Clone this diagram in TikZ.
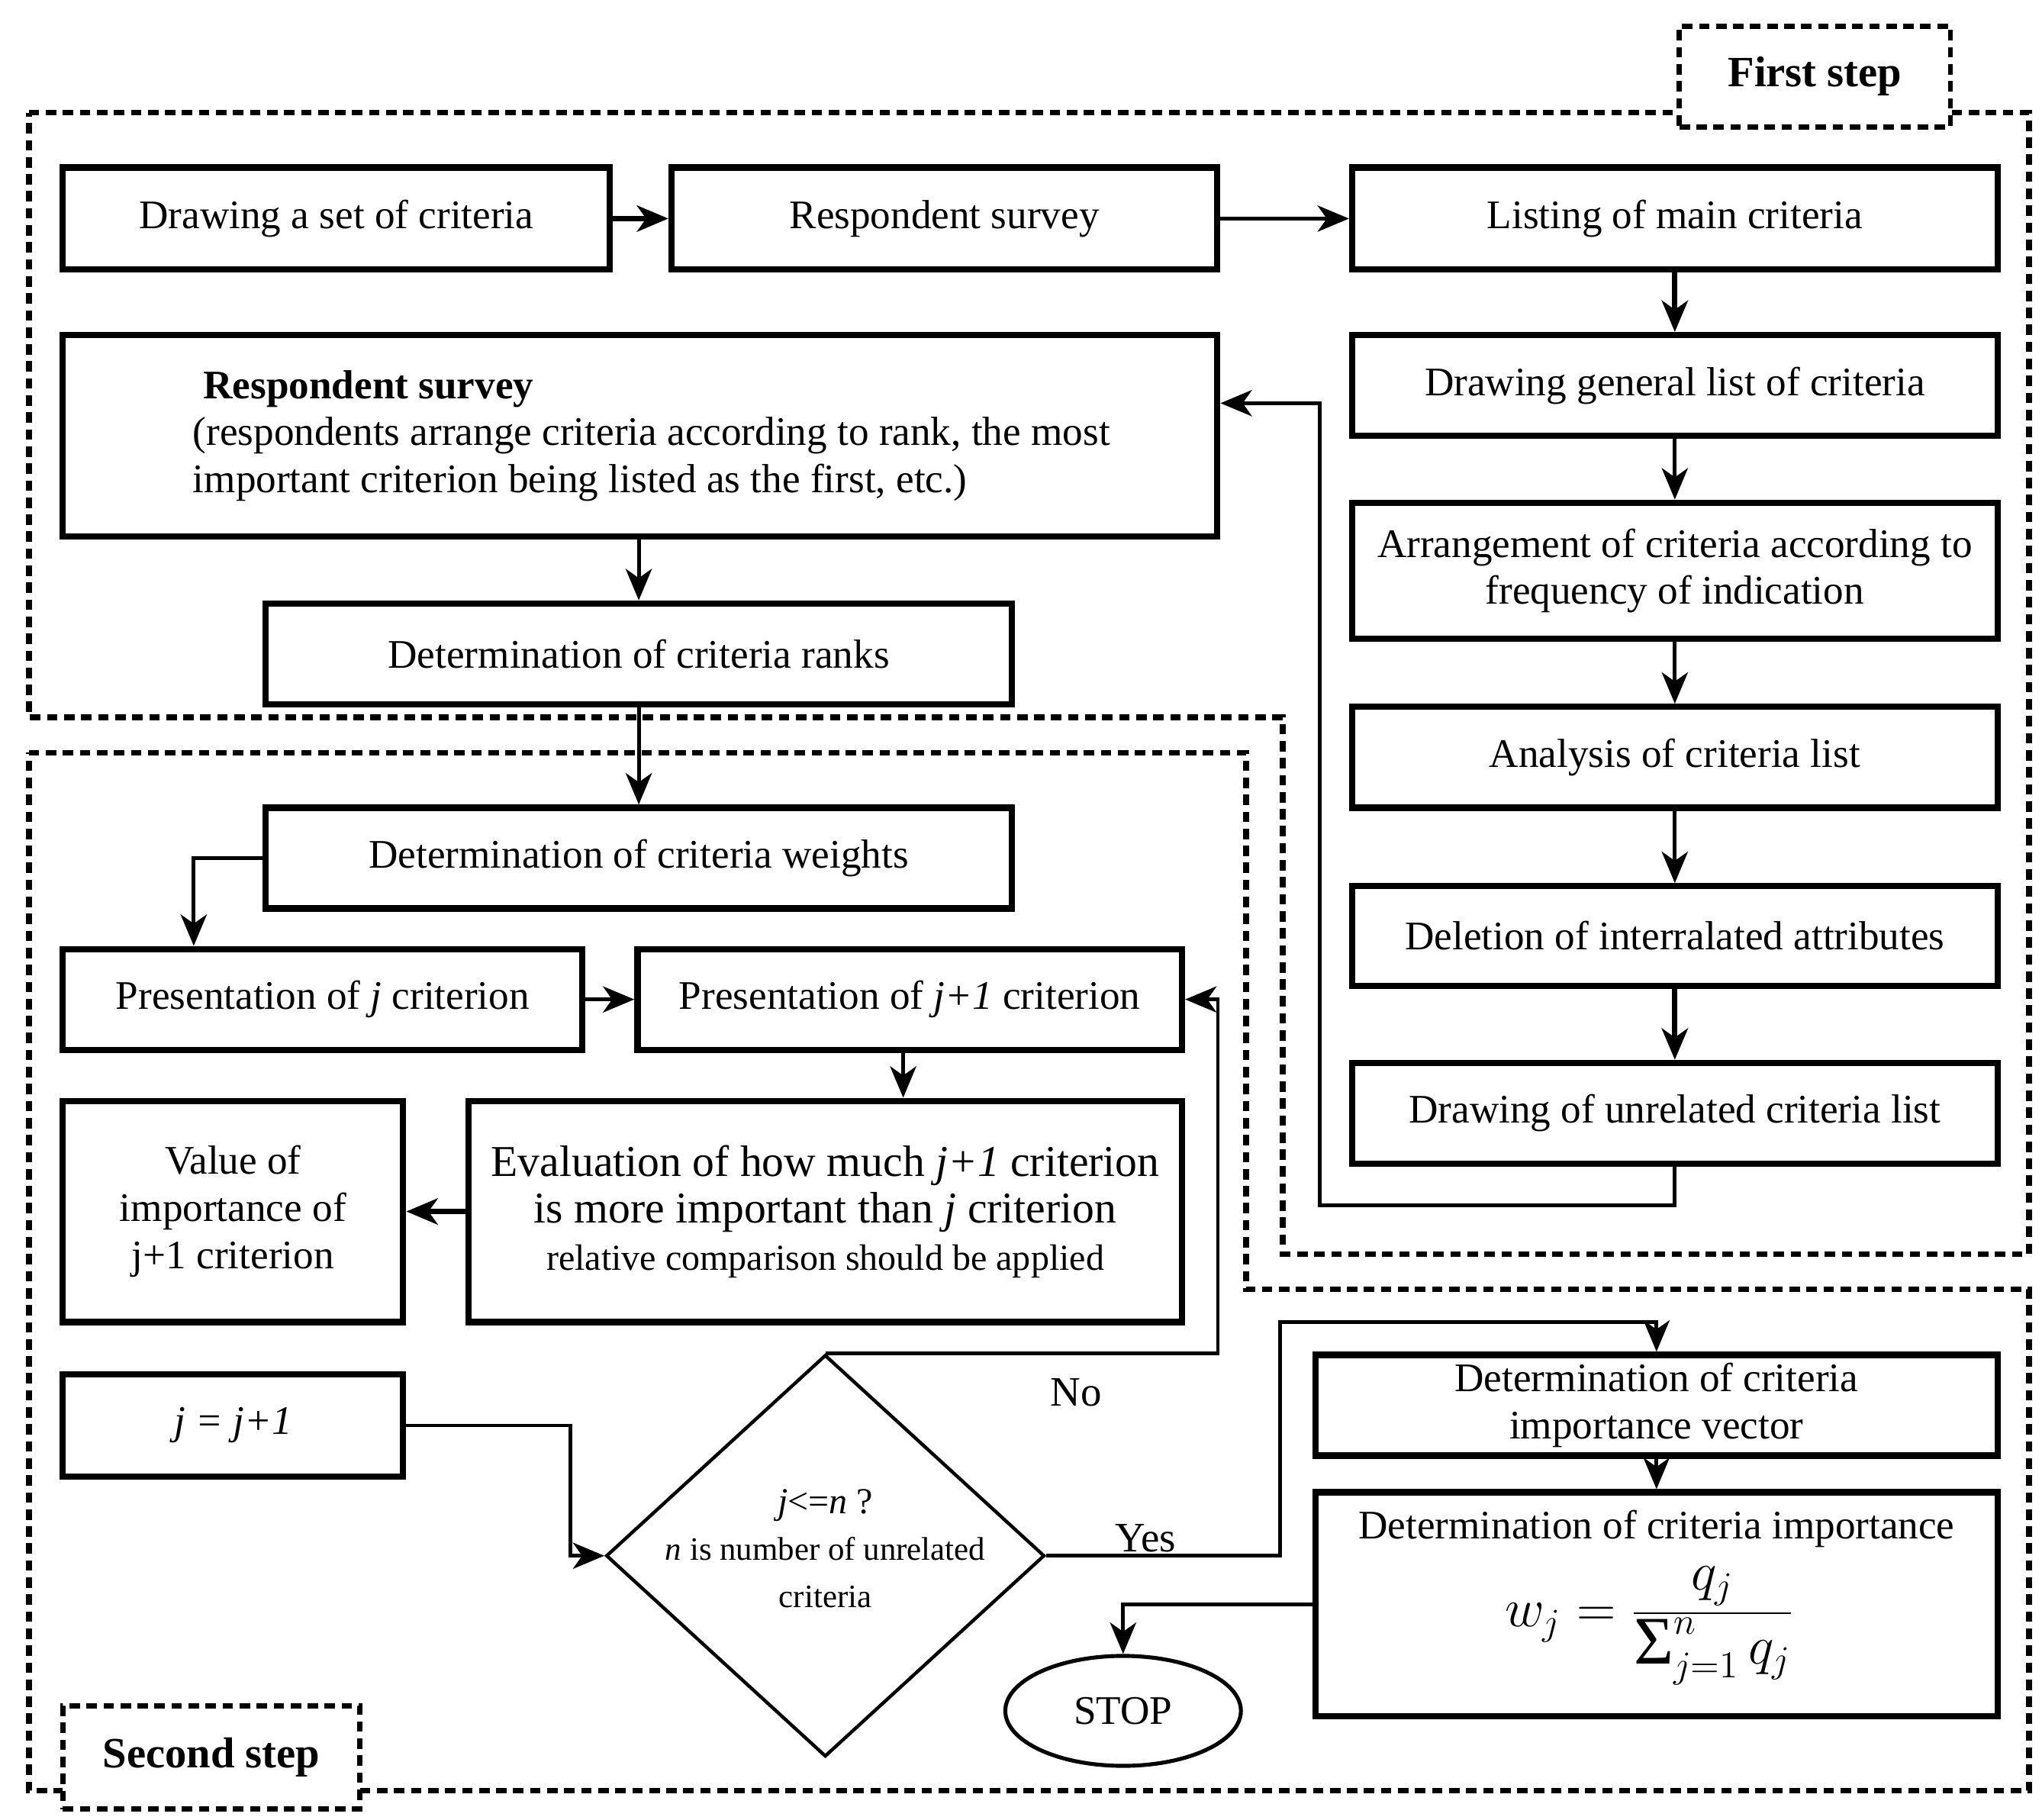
\documentclass[tikz,border=0pt]{standalone}
\usepackage{fontspec}
\setmainfont{Liberation Serif}
\usetikzlibrary{arrows.meta,shapes.geometric}
\begin{document}
\begin{tikzpicture}[x=0.5pt,y=-0.5pt,
 box/.style={draw,line width=2.4pt,inner sep=2pt,align=center,font=\fontsize{15.5pt}{18pt}\selectfont},
 conn/.style={line width=1.4pt,-{Stealth[length=12pt,width=10pt,inset=3.5pt]}},
 tconn/.style={conn,line width=2pt},
 region/.style={line width=2.2pt,dash pattern=on 4pt off 2.5pt},
 lab/.style={draw,fill=white,line width=2pt,dash pattern=on 4pt off 2.5pt,font=\bfseries\fontsize{16.5pt}{19pt}\selectfont},
 txt/.style={inner sep=0pt,align=center,font=\fontsize{15.5pt}{18pt}\selectfont}
]
\useasboundingbox (0,0) rectangle (1560,1389.8);
% regions
\draw[region] (22,86) -- (1550,86) -- (1550,958) -- (980,958) -- (980,548) -- (22,548) -- cycle;
\draw[region] (22,575) -- (952,575) -- (952,985) -- (1550,985) -- (1550,1368) -- (22,1368) -- cycle;
\node[lab,minimum width=103.5pt,minimum height=38.5pt] (l1) at (1386.5,58.5) {First step};
\node[lab,minimum width=113.5pt,minimum height=39.5pt] (l2) at (161.5,1342.5) {Second step};

% first step boxes
\node[box,minimum width=209pt,minimum height=39pt] (b1) at (257,167) {Drawing a set of criteria};
\node[box,minimum width=208.5pt,minimum height=39pt] (b2) at (721.5,167) {Respondent survey};
\node[box,minimum width=246.5pt,minimum height=39pt] (b3) at (1279.5,167) {Listing of main criteria};
\node[box,minimum width=246.5pt,minimum height=38.5pt] (b4) at (1279.5,294.5) {Drawing general list of criteria};
\node[box,minimum width=246.5pt,minimum height=52pt] (b5) at (1279.5,436) {Arrangement of criteria according to\\frequency of indication};
\node[box,minimum width=246.5pt,minimum height=38.5pt] (b6) at (1279.5,578.5) {Analysis of criteria list};
\node[box,minimum width=246.5pt,minimum height=38pt] (b7) at (1279.5,715) {Deletion of interralated attributes};
\node[box,minimum width=246.5pt,minimum height=38.5pt] (b8) at (1279.5,850.5) {Drawing of unrelated criteria list};
\node[box,minimum width=441pt,minimum height=77pt] (big) at (489,333) {};
\node[txt,anchor=west,align=left] (bigt) at (147,333) {\hspace*{4pt}\textbf{Respondent survey}\\(respondents arrange criteria according to rank, the most\\important criterion being listed as the first, etc.)};
\node[box,minimum width=285pt,minimum height=38.5pt] (b10) at (488,499.5) {Determination of criteria ranks};

% second step boxes
\node[box,minimum width=285pt,minimum height=38.5pt] (b11) at (488,655.5) {Determination of criteria weights};
\node[box,minimum width=198.5pt,minimum height=38.5pt] (b12) at (246.5,763.5) {Presentation of \textit{j} criterion};
\node[box,minimum width=208pt,minimum height=38.5pt] (b13) at (695,763.5) {Presentation of \textit{j+1} criterion};
\node[box,minimum width=130pt,minimum height=84.5pt] (b14) at (178,925.5) {Value of\\importance of\\j+1 criterion};
\node[box,minimum width=272.5pt,minimum height=84.5pt] (b15) at (630.5,925.5) {\fontsize{16.8pt}{19.5pt}\selectfont Evaluation of how much \textit{j+1} criterion\\\fontsize{16.8pt}{19pt}\selectfont is more important than \textit{j} criterion\\\fontsize{14pt}{18pt}\selectfont relative comparison should be applied};
\node[box,minimum width=130pt,minimum height=39pt] (b16) at (178,1089) {\textit{j = j+1}};
\node[draw,diamond,line width=1.3pt,minimum width=167.5pt,minimum height=153.5pt,inner sep=0pt] (dia) at (630.5,1188.5) {};
\node[txt,font=\fontsize{12.5pt}{18pt}\selectfont] (diat) at (630.5,1183) {{\fontsize{14pt}{18pt}\selectfont\textit{j}<=\textit{n} ?}\\\textit{n} is number of unrelated\\criteria};
\node[box,minimum width=260.5pt,minimum height=38.5pt] (b18) at (1265.5,1073.5) {Determination of criteria\\importance vector};
\node[box,minimum width=260.5pt,minimum height=85.5pt] (b19) at (1265.5,1225.5) {};
\node[txt] (b19t) at (1265.5,1168) {Determination of criteria importance};
\node[inner sep=0pt,font=\fontsize{20pt}{24pt}\selectfont] (b19f) at (1260,1242) {$\displaystyle w_j=\frac{q_j}{\mathop{\mbox{\fontsize{26pt}{26pt}\selectfont Σ}}\nolimits_{j=1}^{n} q_j}$};
\node[draw,ellipse,line width=1.5pt,minimum width=90pt,minimum height=42pt,inner sep=0pt,font=\fontsize{15.5pt}{18pt}\selectfont] (stop) at (858,1307) {STOP};

% connectors first step
\draw[tconn] (b1) -- (b2);
\draw[conn] (b2) -- (b3);
\draw[tconn] (b3) -- (b4);
\draw[conn] (b4) -- (b5);
\draw[conn] (b5) -- (b6);
\draw[conn] (b6) -- (b7);
\draw[tconn] (b7) -- (b8);
\draw[conn] (b8.south) |- (1008,921) |- ([yshift=12.5pt]big.east);
\draw[conn] (big.south -| b10.north) -- (b10.north);
\draw[conn] (b10) -- (b11);
% connectors second step
\draw[conn] (b11.west) -| ([xshift=-49.25pt]b12.north);
\draw[conn] (b12) -- (b13);
\draw[conn] ([xshift=-2.5pt]b13.south) -- ([xshift=-2.5pt]b13.south |- b15.north);
\draw[tconn] (b15) -- (b14);
\draw[conn] (dia.north) -| ([xshift=12.5pt]b13.east) -- (b13.east);
\draw[conn] (b16.east) -| ([xshift=-13pt]dia.west) -- (dia.west);
\draw[conn] (dia.east) -| (978,1010) -| (b18.north);
\draw[conn] (b18) -- (b19);
\draw[conn] (b19.west) -| (stop.north);
\node[txt,font=\fontsize{16pt}{19pt}\selectfont] (no) at (822,1064) {No};
\node[txt,font=\fontsize{16pt}{19pt}\selectfont] (yes) at (875,1175) {Yes};
\end{tikzpicture}
\end{document}
